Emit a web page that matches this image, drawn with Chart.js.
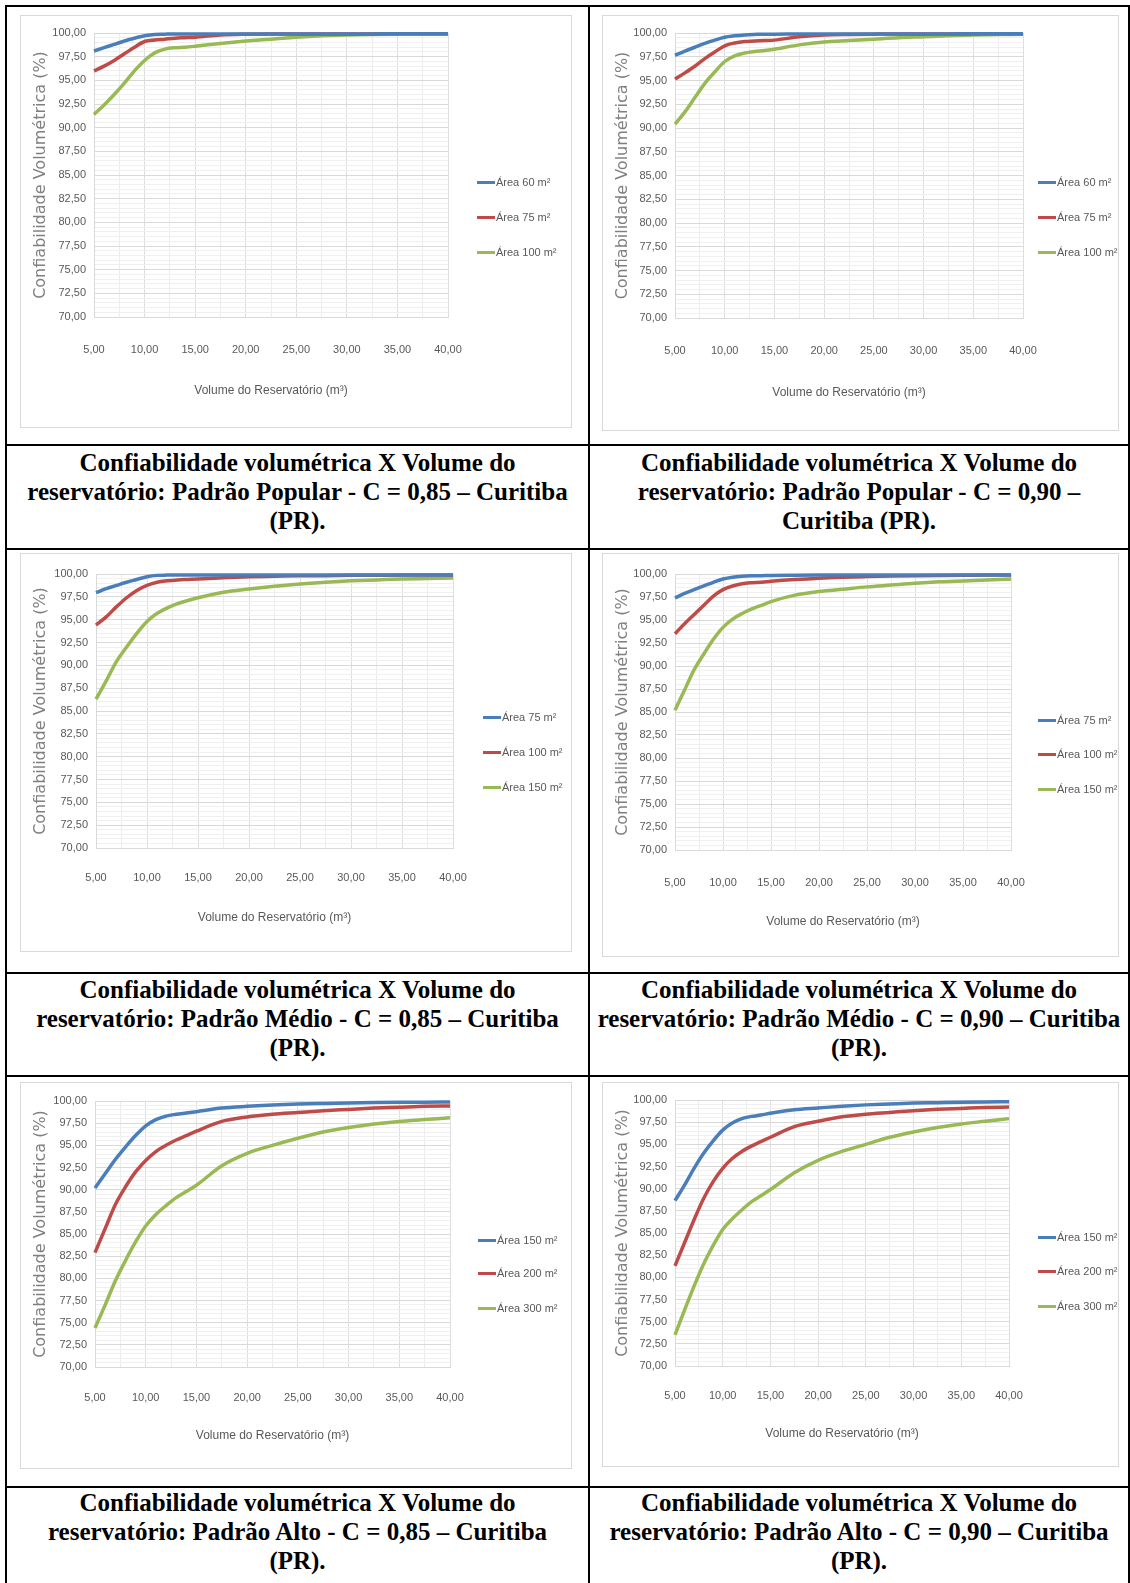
<!DOCTYPE html>
<html>
<head>
<meta charset="utf-8">
<script src="https://cdn.jsdelivr.net/npm/chart.js@4.4.1/dist/chart.umd.min.js"></script>
<style>
  body { margin: 0; background: #fff; width: 1130px; height: 1583px; position: relative; overflow: hidden; }
  .hl { position: absolute; left: 5px; width: 1125px; height: 2px; background: #000; }
  .vl { position: absolute; top: 5px; width: 2px; height: 1578px; background: #000; }
  .box { position: absolute; border: 1px solid #d9d9d9; box-sizing: border-box; background: #fff; }
  .box canvas { position: absolute; left: 0; top: 0; }
  .cap { position: absolute; text-align: center; white-space: nowrap;
         font: bold 25px/29px "Liberation Serif", "Times New Roman", serif; color: #000; }
  .leg { position: absolute; font: 11px "Liberation Sans", sans-serif; color: #595959;
         display: flex; align-items: center; white-space: nowrap; }
  .leg span.ln { display: inline-block; width: 18px; height: 3px; margin-right: 1px; }
</style>
</head>
<body>
<div class="hl" style="top:5px"></div>
<div class="hl" style="top:444px"></div>
<div class="hl" style="top:548px"></div>
<div class="hl" style="top:972px"></div>
<div class="hl" style="top:1075px"></div>
<div class="hl" style="top:1486px"></div>
<div class="vl" style="left:5px"></div>
<div class="vl" style="left:588px"></div>
<div class="vl" style="left:1128px"></div>
<div id="root"></div>
<script>
// volume do reservatório (m³)
const volumes = [5, 6, 7, 8, 9, 10, 11, 12, 13, 14, 15, 17.5, 20, 22.5, 25, 27.5, 30, 32.5, 35, 37.5, 40];

const yTicks = [70, 72.5, 75, 77.5, 80, 82.5, 85, 87.5, 90, 92.5, 95, 97.5, 100];
const xTicks = [5, 10, 15, 20, 25, 30, 35, 40];

// Padrão Popular - C = 0,85
const pop85_a60  = [98.1, 98.45, 98.8, 99.15, 99.45, 99.7, 99.85, 99.88, 99.9, 99.9, 99.9, 99.9, 99.9, 99.9, 99.9, 99.9, 99.9, 99.9, 99.92, 99.92, 99.92];
const pop85_a75  = [96.0, 96.5, 97.1, 97.8, 98.5, 99.1, 99.25, 99.35, 99.45, 99.5, 99.55, 99.8, 99.88, 99.9, 99.9, 99.9, 99.9, 99.9, 99.92, 99.92, 99.92];
const pop85_a100 = [91.4, 92.4, 93.5, 94.7, 96.0, 97.1, 97.9, 98.3, 98.45, 98.5, 98.6, 98.9, 99.15, 99.35, 99.55, 99.7, 99.8, 99.85, 99.88, 99.9, 99.9];

// Padrão Popular - C = 0,90
const pop90_a60  = [97.65, 98.1, 98.5, 98.9, 99.25, 99.55, 99.7, 99.8, 99.85, 99.88, 99.88, 99.9, 99.9, 99.9, 99.9, 99.9, 99.9, 99.9, 99.92, 99.92, 99.92];
const pop90_a75  = [95.15, 95.8, 96.5, 97.3, 98.0, 98.65, 98.95, 99.1, 99.15, 99.2, 99.25, 99.6, 99.8, 99.85, 99.88, 99.9, 99.9, 99.9, 99.9, 99.92, 99.92];
const pop90_a100 = [90.4, 91.7, 93.2, 94.7, 95.9, 97.0, 97.6, 97.9, 98.05, 98.15, 98.3, 98.75, 99.05, 99.2, 99.35, 99.5, 99.6, 99.7, 99.78, 99.83, 99.88];

// Padrão Médio - C = 0,85
const med85_a75  = [97.95, 98.4, 98.75, 99.1, 99.4, 99.7, 99.85, 99.88, 99.9, 99.9, 99.9, 99.9, 99.9, 99.9, 99.9, 99.9, 99.9, 99.9, 99.9, 99.9, 99.9];
const med85_a100 = [94.4, 95.3, 96.4, 97.4, 98.2, 98.75, 99.1, 99.25, 99.35, 99.4, 99.45, 99.6, 99.7, 99.75, 99.8, 99.82, 99.85, 99.87, 99.88, 99.9, 99.9];
const med85_a150 = [86.3, 88.3, 90.4, 92.0, 93.5, 94.8, 95.7, 96.3, 96.75, 97.1, 97.4, 98.0, 98.35, 98.65, 98.9, 99.1, 99.25, 99.35, 99.45, 99.5, 99.55];

// Padrão Médio - C = 0,90
const med90_a75  = [97.4, 97.9, 98.3, 98.7, 99.1, 99.45, 99.65, 99.75, 99.8, 99.82, 99.85, 99.87, 99.88, 99.88, 99.9, 99.9, 99.9, 99.9, 99.9, 99.9, 99.9];
const med90_a100 = [93.5, 94.6, 95.6, 96.6, 97.6, 98.3, 98.7, 98.95, 99.05, 99.1, 99.2, 99.4, 99.55, 99.65, 99.72, 99.78, 99.82, 99.85, 99.87, 99.88, 99.9];
const med90_a150 = [85.2, 87.4, 89.6, 91.3, 92.9, 94.2, 95.1, 95.7, 96.2, 96.6, 97.0, 97.7, 98.1, 98.35, 98.6, 98.8, 99.0, 99.15, 99.25, 99.35, 99.45];

// Padrão Alto - C = 0,85
const alt85_a150 = [90.2, 91.8, 93.4, 94.8, 96.1, 97.2, 97.9, 98.3, 98.5, 98.65, 98.8, 99.2, 99.4, 99.55, 99.65, 99.72, 99.78, 99.82, 99.85, 99.87, 99.9];
const alt85_a200 = [82.9, 85.6, 88.3, 90.3, 92.0, 93.3, 94.3, 95.0, 95.6, 96.1, 96.6, 97.7, 98.2, 98.5, 98.7, 98.9, 99.05, 99.2, 99.3, 99.4, 99.45];
const alt85_a300 = [74.4, 77.0, 79.7, 82.0, 84.1, 85.9, 87.2, 88.2, 89.1, 89.8, 90.5, 92.7, 94.1, 95.0, 95.8, 96.5, 97.0, 97.4, 97.7, 97.9, 98.1];

// Padrão Alto - C = 0,90
const alt90_a150 = [88.65, 90.4, 92.3, 94.0, 95.4, 96.6, 97.4, 97.9, 98.15, 98.3, 98.5, 98.9, 99.1, 99.3, 99.45, 99.55, 99.65, 99.7, 99.75, 99.78, 99.8];
const alt90_a200 = [81.3, 83.9, 86.5, 88.9, 90.8, 92.3, 93.4, 94.2, 94.8, 95.3, 95.8, 97.0, 97.6, 98.1, 98.4, 98.6, 98.8, 98.95, 99.05, 99.15, 99.2];
const alt90_a300 = [73.5, 76.3, 79.0, 81.5, 83.6, 85.4, 86.6, 87.6, 88.5, 89.2, 89.9, 91.8, 93.2, 94.2, 95.0, 95.8, 96.4, 96.9, 97.3, 97.6, 97.9];

const labelsPop = ["Área 60 m²", "Área 75 m²", "Área 100 m²"];
const labelsMed = ["Área  75 m²", "Área 100 m²", "Área 150 m²"];
const labelsAlt = ["Área 150 m²", "Área 200 m²", "Área 300 m²"];

const captions = [
  ["Confiabilidade volumétrica X Volume do", "reservatório: Padrão Popular - C = 0,85 – Curitiba", "(PR)."],
  ["Confiabilidade volumétrica X Volume do", "reservatório: Padrão Popular - C = 0,90 –", "Curitiba (PR)."],
  ["Confiabilidade volumétrica X Volume do", "reservatório: Padrão Médio - C = 0,85 – Curitiba", "(PR)."],
  ["Confiabilidade volumétrica X Volume do", "reservatório: Padrão Médio - C = 0,90 – Curitiba", "(PR)."],
  ["Confiabilidade volumétrica X Volume do", "reservatório: Padrão Alto - C = 0,85 – Curitiba", "(PR)."],
  ["Confiabilidade volumétrica X Volume do", "reservatório: Padrão Alto - C = 0,90 – Curitiba", "(PR)."]
];

const colors = ["#4a7ebb", "#be4b48", "#98b954"];

// box: x, y, w, h ; plot edges relative to box ; legend line x and item centres
const panels = [
  { series: [pop85_a60, pop85_a75, pop85_a100], labels: labelsPop, box: [20, 15, 552, 413], plot: [73, 427, 17, 301], lab: 33, tit: 73, leg: [457, 167, 202, 237], cap: [7, 448, 581] },
  { series: [pop90_a60, pop90_a75, pop90_a100], labels: labelsPop, box: [602, 15, 517, 416], plot: [72, 420, 17, 302], lab: 33, tit: 74, leg: [436, 167, 202, 237], cap: [590, 448, 538] },
  { series: [med85_a75, med85_a100, med85_a150], labels: labelsMed, box: [20, 553, 552, 399], plot: [75, 432, 20, 294], lab: 30, tit: 69, leg: [463, 164, 199, 234], cap: [7, 975, 581] },
  { series: [med90_a75, med90_a100, med90_a150], labels: labelsMed, box: [602, 553, 517, 404], plot: [72, 408, 20, 296], lab: 33, tit: 71, leg: [436, 167, 201, 236], cap: [590, 975, 538] },
  { series: [alt85_a150, alt85_a200, alt85_a300], labels: labelsAlt, box: [20, 1082, 552, 387], plot: [74, 429, 18, 284], lab: 31, tit: 68, leg: [458, 158, 191, 226], cap: [7, 1488, 581] },
  { series: [alt90_a150, alt90_a200, alt90_a300], labels: labelsAlt, box: [602, 1082, 517, 385], plot: [72, 406, 17, 283], lab: 30, tit: 67, leg: [436, 155, 189, 224], cap: [590, 1488, 538] }
];

const sans = "'Liberation Sans', sans-serif";
const fmt = v => v.toFixed(2).replace('.', ',');

const root = document.getElementById('root');

panels.forEach((p, i) => {
  const [bx, by, bw, bh] = p.box;
  const [pl, pr, pt, pb] = p.plot;
  const xH = bh - pb;

  const box = document.createElement('div');
  box.className = 'box';
  box.style.cssText = `left:${bx}px;top:${by}px;width:${bw}px;height:${bh}px`;
  const cv = document.createElement('canvas');
  cv.width = bw; cv.height = bh;
  box.appendChild(cv);
  root.appendChild(box);

  // legend
  p.labels.forEach((lab, k) => {
    const d = document.createElement('div');
    d.className = 'leg';
    d.style.left = (bx + p.leg[0]) + 'px';
    d.style.top = (by + p.leg[k + 1] - 8) + 'px';
    d.style.height = '16px';
    d.innerHTML = `<span class="ln" style="background:${colors[k]}"></span>${lab}`;
    root.appendChild(d);
  });

  // caption
  const c = document.createElement('div');
  c.className = 'cap';
  c.style.left = p.cap[0] + 'px';
  c.style.top = p.cap[1] + 'px';
  c.style.width = p.cap[2] + 'px';
  c.innerHTML = captions[i].join('<br>');
  root.appendChild(c);

  new Chart(cv, {
    type: 'line',
    data: {
      datasets: p.series.map((s, k) => ({
        label: p.labels[k],
        data: volumes.map((v, j) => ({ x: v, y: s[j] })),
        borderColor: colors[k],
        borderWidth: 3.5,
        pointRadius: 0,
        cubicInterpolationMode: 'monotone',
        fill: false,
        clip: 6
      }))
    },
    options: {
      responsive: false,
      animation: false,
      events: [],
      layout: { padding: { left: 0, top: pt, right: bw - pr, bottom: 0 } },
      plugins: { legend: { display: false }, tooltip: { enabled: false } },
      scales: {
        x: {
          type: 'linear', min: 5, max: 40,
          afterFit: s => { s.height = xH; },
          border: { color: '#d9d9d9' },
          grid: { drawTicks: false, color: c => (xTicks.includes(c.tick.value) ? '#dedede' : '#ececec') },
          ticks: {
            stepSize: 2.5, autoSkip: false, maxRotation: 0, maxTicksLimit: 100,
            padding: p.lab - 7, color: '#595959', font: { family: sans, size: 11 },
            callback: v => (xTicks.includes(v) ? fmt(v) : '')
          },
          title: {
            display: true, text: 'Volume do Reservatório (m³)', color: '#595959',
            font: { family: sans, size: 12 }, padding: { top: 0, bottom: xH - p.tit - 8 }
          }
        },
        y: {
          min: 70, max: 100,
          afterFit: s => { s.width = pl; },
          border: { color: '#d9d9d9' },
          grid: { drawTicks: false, color: c => (yTicks.includes(c.tick.value) ? '#d9d9d9' : '#f0f0f0') },
          ticks: {
            stepSize: 0.5, autoSkip: false, maxTicksLimit: 100,
            padding: 8, color: '#595959', font: { family: sans, size: 11 },
            callback: v => (yTicks.includes(v) ? fmt(v) : '')
          },
          title: {
            display: true, text: 'Confiabilidade Volumétrica (%)', color: '#7f7f7f',
            font: { family: "'DejaVu Sans', sans-serif", size: 16 }, padding: { top: 10, bottom: 0 }
          }
        }
      }
    }
  });
});
</script>
</body>
</html>
